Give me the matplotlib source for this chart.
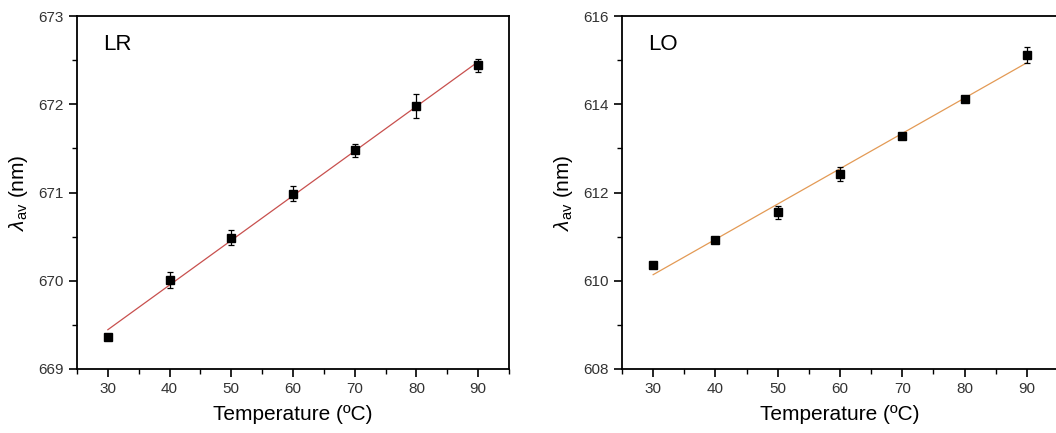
import matplotlib
matplotlib.use("Agg")
import matplotlib.pyplot as plt
import numpy as np
from matplotlib.ticker import MultipleLocator

plt.rcParams.update({
    "font.family": ["Liberation Sans", "DejaVu Sans"],
    "mathtext.fontset": "custom",
    "mathtext.rm": "Liberation Sans",
    "mathtext.it": "Liberation Sans:italic",
    "axes.linewidth": 1.3,
})

# ---- data -------------------------------------------------------------------
temperature = [30, 40, 50, 60, 70, 80, 90]

lr_lambda = [669.36, 670.01, 670.49, 670.985, 671.48, 671.98, 672.44]
lr_err = [0.02, 0.09, 0.08, 0.085, 0.075, 0.14, 0.07]

lo_lambda = [610.35, 610.93, 611.555, 612.42, 613.28, 614.12, 615.12]
lo_err = [0.04, 0.05, 0.15, 0.16, 0.05, 0.05, 0.18]

panels = [
    ("LR", lr_lambda, lr_err, (669, 673), 1, 0.5, "#c8504e"),
    ("LO", lo_lambda, lo_err, (608, 616), 2, 1, "#e39a55"),
]

fig = plt.figure(figsize=(10.56, 4.33), dpi=100)
axes = [
    fig.add_axes([77 / 1056, 64 / 433, 432 / 1056, 353 / 433]),
    fig.add_axes([622 / 1056, 64 / 433, 436 / 1056, 353 / 433]),
]

for ax, (name, vals, errs, ylim, ymaj, ymin, lcolor) in zip(axes, panels):
    x = np.array(temperature)
    y = np.array(vals)
    slope, icpt = np.polyfit(x, y, 1)
    ax.plot(x, slope * x + icpt, color=lcolor, linewidth=0.9, zorder=2)
    ax.errorbar(x, y, yerr=errs, fmt="s", color="black", markersize=6,
                ecolor="black", elinewidth=0.9, capsize=2.5, capthick=0.9,
                zorder=3)

    ax.set_xlim(25, 95)
    ax.set_ylim(*ylim)
    ax.xaxis.set_major_locator(MultipleLocator(10))
    ax.xaxis.set_minor_locator(MultipleLocator(5))
    ax.yaxis.set_major_locator(MultipleLocator(ymaj))
    ax.yaxis.set_minor_locator(MultipleLocator(ymin))
    ax.tick_params(which="major", direction="out", length=6, width=1.2,
                   labelsize=11, colors="black", labelcolor="#333333")
    ax.tick_params(which="minor", direction="out", length=3.5, width=1.0)
    ax.tick_params(top=False, right=False)

    ax.set_xlabel("Temperature (ºC)", fontsize=15, labelpad=6)
    ax.set_ylabel(r"$\lambda_{\mathrm{av}}$ (nm)", fontsize=15, labelpad=6)
    ax.text(0.06, 0.95, name, transform=ax.transAxes, fontsize=16,
            ha="left", va="top")

fig.savefig("out.png", dpi=100)
